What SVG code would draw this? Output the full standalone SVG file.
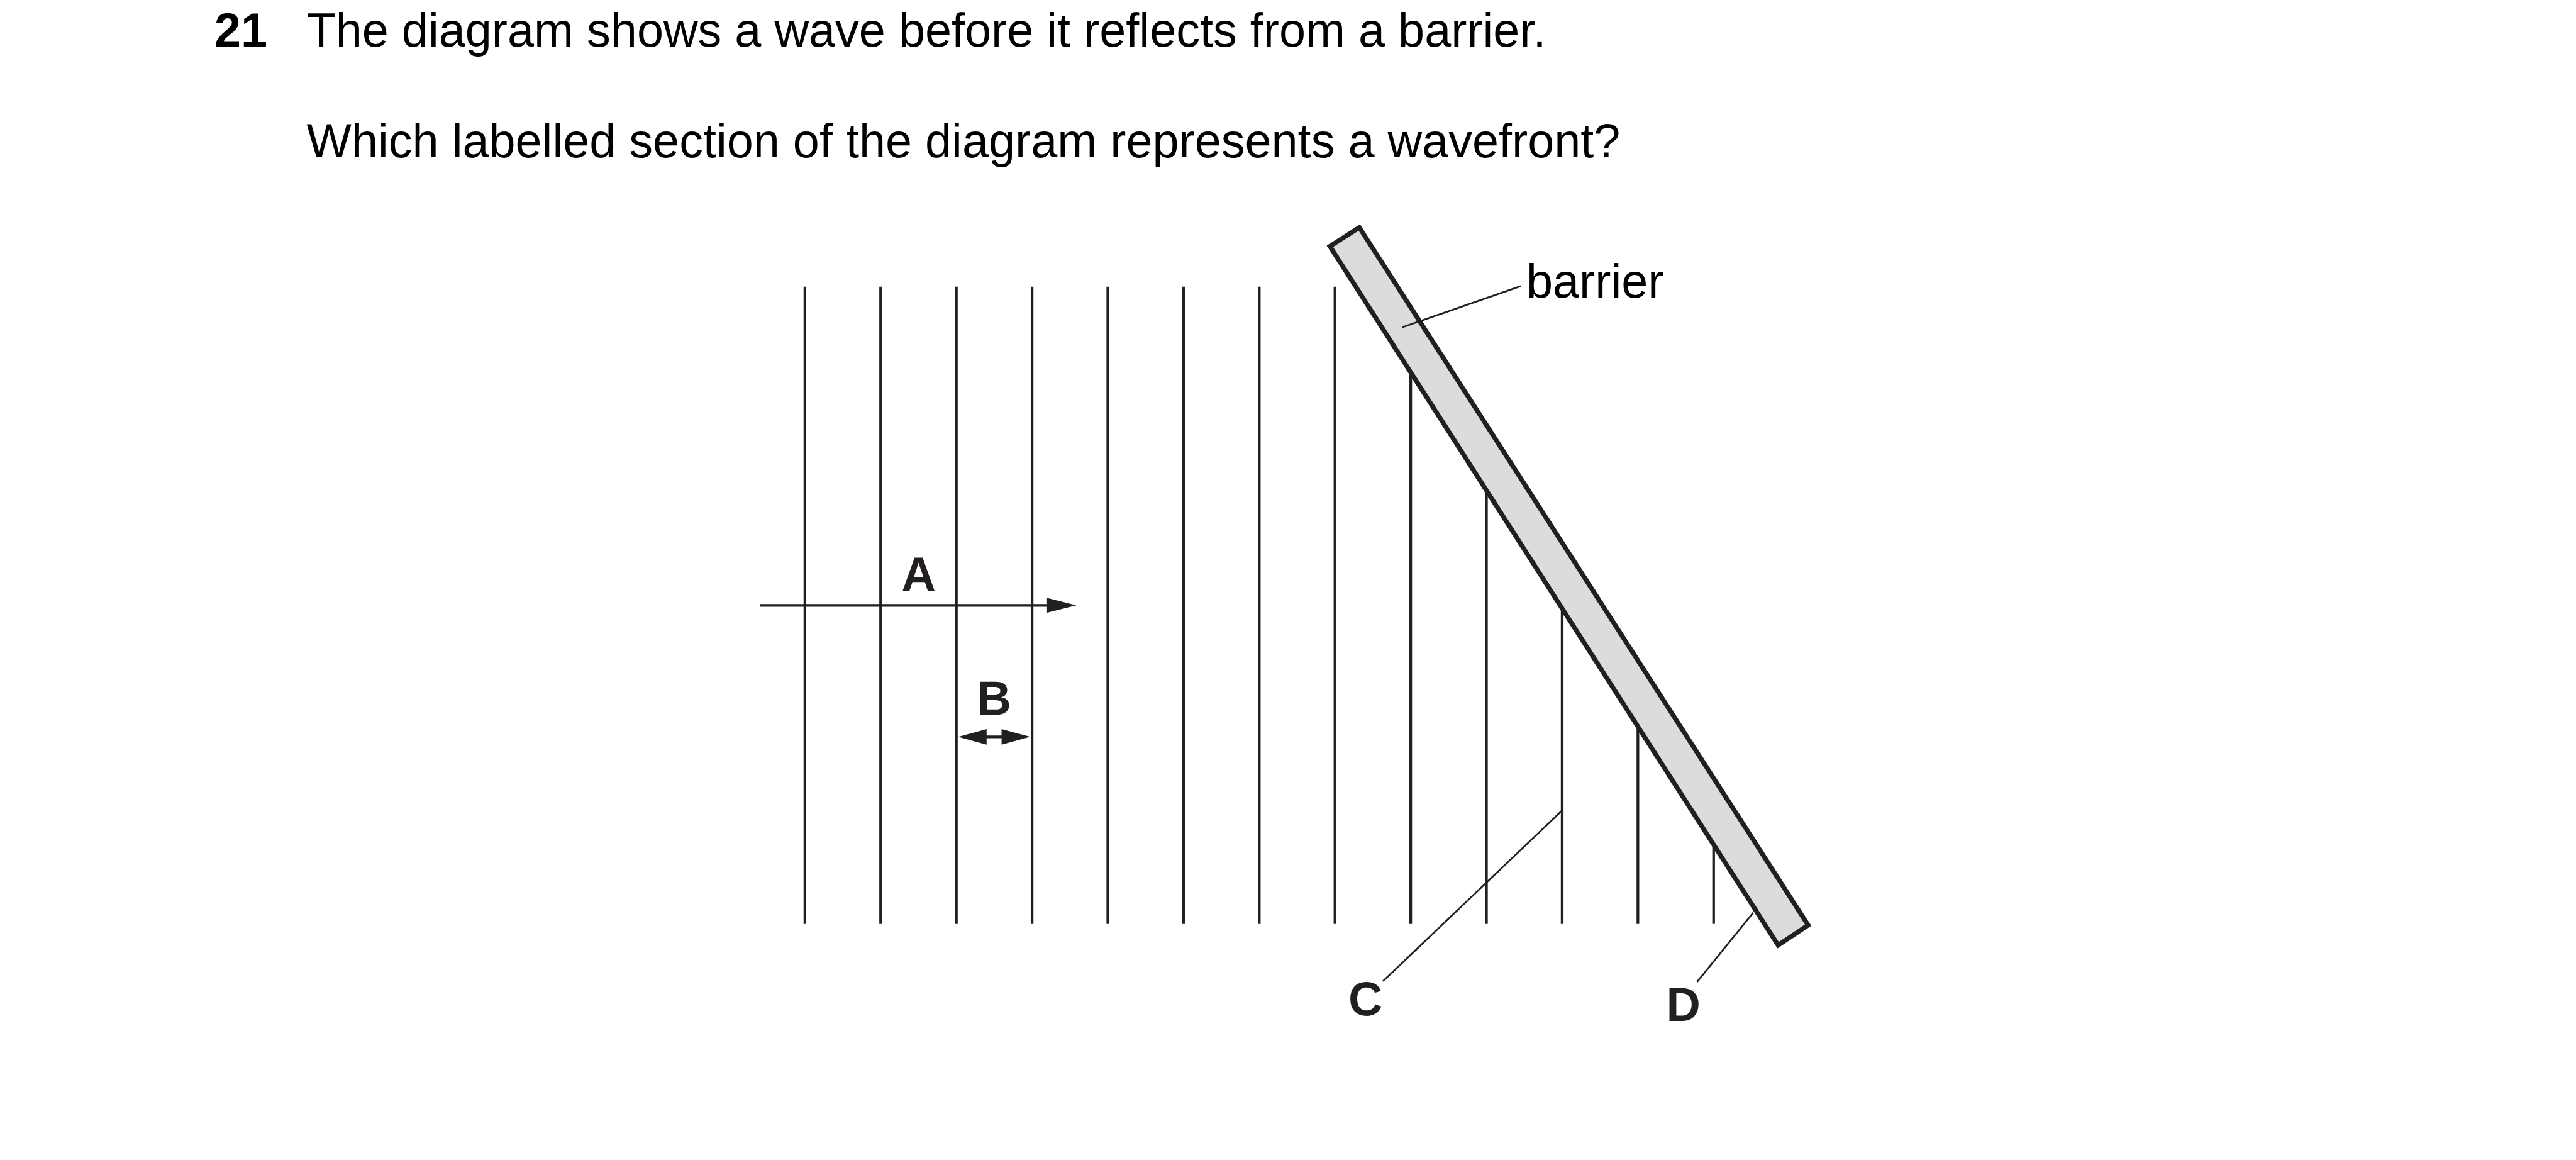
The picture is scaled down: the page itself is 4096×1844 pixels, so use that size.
<svg xmlns="http://www.w3.org/2000/svg" width="4096" height="1844" viewBox="0 0 4096 1844">
<style>
.txt{font-family:"Liberation Sans",Arial,sans-serif;font-size:76.3px;fill:#000}
.b{font-weight:bold}
.lbl{font-family:"Liberation Sans",Arial,sans-serif;font-size:76px;font-weight:bold;fill:#231f20;text-anchor:middle}
.wave{stroke:#231f20;stroke-width:4.3;fill:none}
.lead{stroke:#231f20;stroke-width:2.8;fill:none}
.head{fill:#231f20}
</style>
<rect width="4096" height="1844" fill="#fff"/>
<g transform="scale(0.991)">
<g id="question">
<text class="txt b" x="344" y="75">21</text>
<text class="txt" x="492" y="75">The diagram shows a wave before it reflects from a barrier.</text>
<text class="txt" x="492" y="252">Which labelled section of the diagram represents a wavefront?</text>
</g>
<g id="wavefronts">
<line class="wave" x1="1291.5" y1="460" x2="1291.5" y2="1482"/>
<line class="wave" x1="1413" y1="460" x2="1413" y2="1482"/>
<line class="wave" x1="1534.5" y1="460" x2="1534.5" y2="1482"/>
<line class="wave" x1="1656" y1="460" x2="1656" y2="1482"/>
<line class="wave" x1="1777.5" y1="460" x2="1777.5" y2="1482"/>
<line class="wave" x1="1899" y1="460" x2="1899" y2="1482"/>
<line class="wave" x1="2020.5" y1="460" x2="2020.5" y2="1482"/>
<line class="wave" x1="2142" y1="460" x2="2142" y2="1482"/>
<line class="wave" x1="2263.5" y1="600" x2="2263.5" y2="1482"/>
<line class="wave" x1="2385" y1="790" x2="2385" y2="1482"/>
<line class="wave" x1="2506.5" y1="979" x2="2506.5" y2="1482"/>
<line class="wave" x1="2628" y1="1168" x2="2628" y2="1482"/>
<line class="wave" x1="2749.5" y1="1358" x2="2749.5" y2="1482"/>
</g>
<g id="barrier">
<polygon points="2133.8,395.1 2181,364.8 2901.2,1484 2853,1516.2" fill="#dcdcdc" stroke="#231f20" stroke-width="7.5" stroke-linejoin="miter"/>
</g>
<g id="connectors">
<line class="wave" x1="1220" y1="971" x2="1682" y2="971"/>
<polygon class="head" points="1727,971 1679,959 1679,983"/>
<line class="wave" x1="1580" y1="1182" x2="1610" y2="1182"/>
<polygon class="head" points="1537,1182 1583,1169.5 1583,1194.5"/>
<polygon class="head" points="1653,1182 1607,1169.5 1607,1194.5"/>
<line class="lead" x1="2250" y1="525" x2="2440" y2="459"/>
<line class="lead" x1="2506.5" y1="1300" x2="2219" y2="1574"/>
<line class="lead" x1="2813" y1="1464" x2="2723" y2="1575"/>
</g>
<g id="labels">
<text class="lbl" x="1474" y="948">A</text>
<text class="lbl" x="1595" y="1146">B</text>
<text class="lbl" x="2191" y="1629">C</text>
<text class="lbl" x="2701" y="1638">D</text>
<text class="txt" x="2449" y="477" fill="#231f20">barrier</text>
</g>
</g>
</svg>
